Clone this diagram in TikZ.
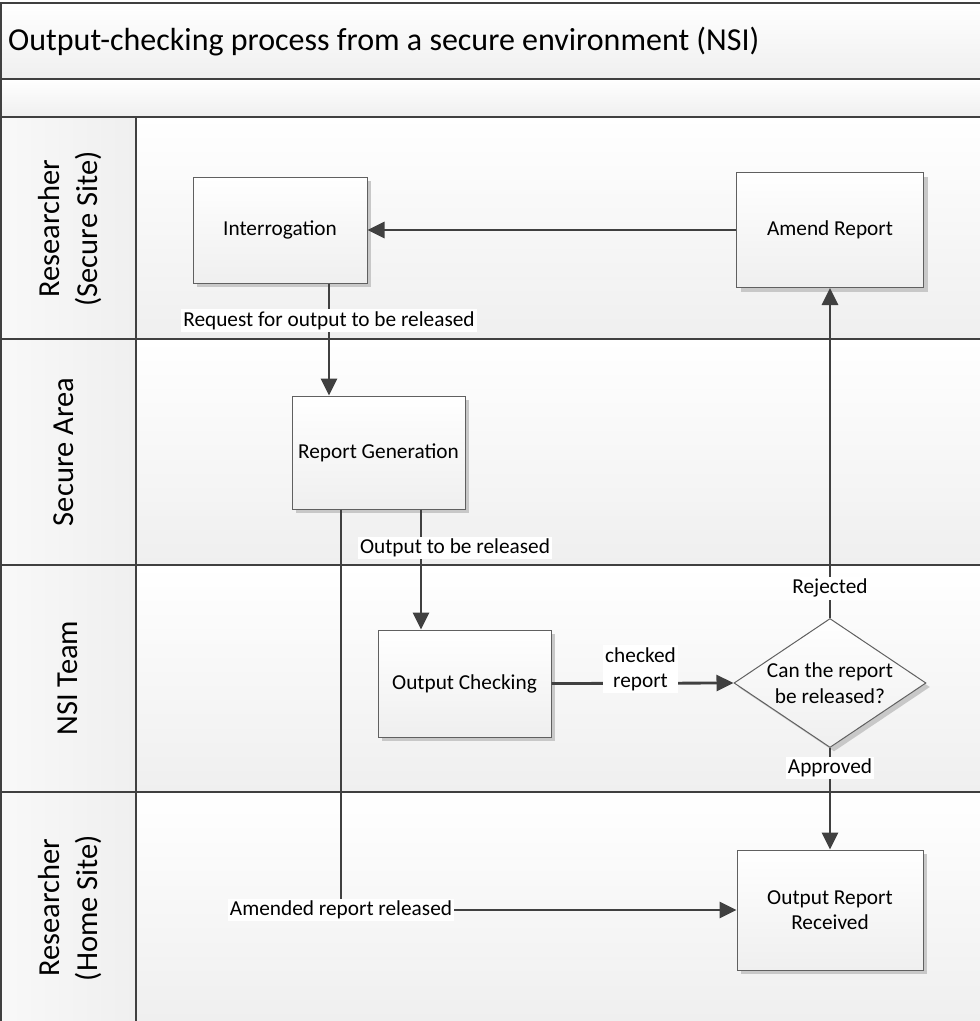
\documentclass[tikz,border=0pt]{standalone}
\usepackage{fontspec}
\setmainfont{Carlito}
\usepackage{tikz}
\usetikzlibrary{positioning, arrows.meta, shapes.geometric, shadows}
\definecolor{laneline}{HTML}{404040}
\definecolor{boxline}{HTML}{606060}
\definecolor{lanefill}{HTML}{EFEFEF}
\definecolor{shadowgray}{HTML}{C8C8C8}
\tikzset{
  lane/.style={draw=laneline, line width=2.8pt},
  lanelabel/.style={rotate=90, align=center, font=\fontsize{30.5}{38}\selectfont, inner sep=0pt},
  heading/.style={font=\fontsize{32}{38}\selectfont, inner sep=0pt},
  task/.style={draw=boxline, line width=1pt, top color=white, bottom color=lanefill, align=center, font=\fontsize{21.3}{25.5}\selectfont, drop shadow={shadow xshift=4pt, shadow yshift=-4pt, fill=shadowgray, opacity=1}},
  decision/.style={diamond, aspect=1.5, draw=boxline, line width=1pt, top color=white, bottom color=lanefill, align=center, inner sep=0pt, font=\fontsize{21.3}{26}\selectfont, minimum width=192pt, minimum height=129pt, drop shadow={shadow xshift=4pt, shadow yshift=-4pt, fill=shadowgray, opacity=1}},
  flow/.style={-{Triangle[length=17pt, width=16pt]}, line width=2.8pt, draw=laneline},
  tag/.style={fill=white, inner sep=2pt, align=center, font=\fontsize{21.3}{25.5}\selectfont},
}
\begin{document}
\begin{tikzpicture}[x=1pt, y=-1pt]
  \useasboundingbox (0,0) rectangle (980,1021);
  % Title bars
  \shade[top color=white, bottom color=lanefill] (1,3) rectangle (980,79);
  \shade[top color=white, bottom color=lanefill] (1,79) rectangle (980,117);
  \node[heading, anchor=west] (title) at (8,42) {Output-checking process from a secure environment (NSI)};

  % Lane backgrounds
  \shade[left color=lanefill!40, right color=lanefill] (1,117) rectangle (136,1021);
  \shade[top color=white, bottom color=lanefill] (136,117) rectangle (980,339);
  \shade[top color=white, bottom color=lanefill] (136,339) rectangle (980,565);
  \shade[top color=white, bottom color=lanefill] (136,565) rectangle (980,792);
  \shade[top color=white, bottom color=lanefill] (136,792) rectangle (980,1021);

  % Lane borders
  \draw[lane] (1,1021) -- (1,3) -- (980,3);
  \draw[lane] (1,79) -- (980,79);
  \draw[lane] (1,117) -- (980,117);
  \draw[lane] (1,339) -- (980,339);
  \draw[lane] (1,565) -- (980,565);
  \draw[lane] (1,792) -- (980,792);
  \draw[lane] (136,117) -- (136,1021);

  % Lane labels
  \node[lanelabel] (secure) at (70,229) {Researcher\\(Secure Site)};
  \node[lanelabel] (area) at (64,452) {Secure Area};
  \node[lanelabel] (nsi) at (68,678) {NSI Team};
  \node[lanelabel] (home) at (70,908) {Researcher\\(Home Site)};

  % Process steps
  \node[task, minimum width=174pt, minimum height=106pt] (interr) at (280,230) {Interrogation};
  \node[task, minimum width=187pt, minimum height=115pt] (amend) at (830,230) {Amend Report};
  \node[task, minimum width=173pt, minimum height=113pt] (rgen) at (378.5,452.5) {Report Generation};
  \node[task, minimum width=173pt, minimum height=107pt] (ochk) at (464.5,683.5) {Output Checking};
  \node[decision] (check) at (830,683) {Can the report\\be released?};
  \node[task, minimum width=186pt, minimum height=120pt] (recv) at (830,910) {Output Report\\Received};

  % Connectors
  \draw[flow] (amend.west) -- (interr.east);
  \draw[flow] ([xshift=49pt]interr.south) -- ([xshift=49pt]interr.south |- rgen.north)
    node[tag, pos=0.33] (req) {Request for output to be released};
  \draw[flow] ([xshift=42.5pt]rgen.south) -- ([xshift=42.5pt]rgen.south |- ochk.north)
    node[tag, pos=0.32, xshift=34pt] (out) {Output to be released};
  \draw[flow] ([xshift=-37.5pt]rgen.south) |- (recv.west)
    node[tag, pos=0.5] (amended) {Amended report released};
  \draw[flow] (ochk.east) -- (check.west)
    node[tag, midway, yshift=14pt, xshift=-2pt] (checked) {checked\\report};
  \draw[flow] (check.north) -- (check.north |- amend.south)
    node[tag, pos=0.09] (rej) {Rejected};
  \draw[flow] (check.south) -- (check.south |- recv.north)
    node[tag, pos=0.2] (appr) {Approved};
\end{tikzpicture}
\end{document}
